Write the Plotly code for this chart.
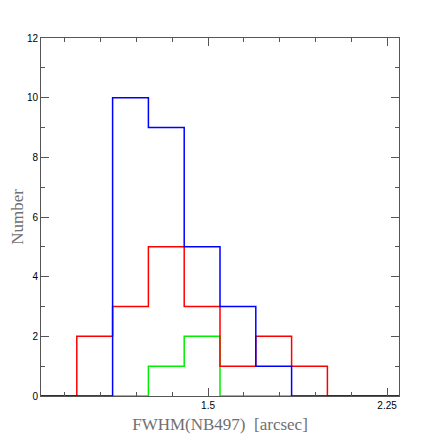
import plotly.graph_objects as go

# histogram bin edges (arcsec) and counts per sample
bin_edges = [0.8, 0.95, 1.1, 1.25, 1.4, 1.55, 1.7, 1.85, 2.0, 2.15, 2.3]
red_counts = [0, 2, 3, 5, 3, 1, 2, 1, 0, 0]
blue_counts = [0, 0, 10, 9, 5, 3, 1, 0, 0, 0]
green_counts = [0, 0, 0, 1, 2, 0, 0, 0, 0, 0]

x_ticks = [1.5, 2.25]
y_ticks = [0, 2, 4, 6, 8, 10, 12]


def step_trace(counts, color):
    return go.Scatter(x=bin_edges, y=counts + [counts[-1]], mode="lines",
                      line=dict(color=color, width=1.5, shape="hv"),
                      showlegend=False, hoverinfo="skip")


fig = go.Figure()
fig.add_trace(step_trace(green_counts, "#00ee00"))
fig.add_trace(step_trace(red_counts, "#ff0000"))
fig.add_trace(step_trace(blue_counts, "#0000ff"))

axis_common = dict(
    showgrid=False, zeroline=False, showline=True, linecolor="#555555",
    linewidth=1, mirror="ticks", ticks="inside", tickcolor="#555555",
    ticklen=8, tickwidth=1, automargin=False,
    tickfont=dict(family="Liberation Sans, Arial", size=10, color="black"),
)

# page body adds 8px offset, so margins are shifted to compensate
fig.update_layout(
    width=436, height=436,
    margin=dict(l=33, r=45, t=30, b=48),
    paper_bgcolor="white", plot_bgcolor="white",
    xaxis=dict(
        range=[0.8, 2.3], tickvals=x_ticks, ticktext=["1.5", "2.25"],
        minor=dict(tick0=0.75, dtick=0.15, ticks="inside", ticklen=4,
                   tickcolor="#555555"),
        title=dict(text="FWHM(NB497)  [arcsec]", standoff=8,
                   font=dict(family="Liberation Serif, Times New Roman", size=17,
                             color="#707070")),
        **axis_common,
    ),
    yaxis=dict(
        range=[0, 12], tickvals=y_ticks,
        minor=dict(dtick=1, ticks="inside", ticklen=4, tickcolor="#555555"),
        title=dict(text="Number", standoff=12,
                   font=dict(family="Liberation Serif, Times New Roman", size=17,
                             color="#707070")),
        **axis_common,
    ),
)

fig.write_html("out.html")
